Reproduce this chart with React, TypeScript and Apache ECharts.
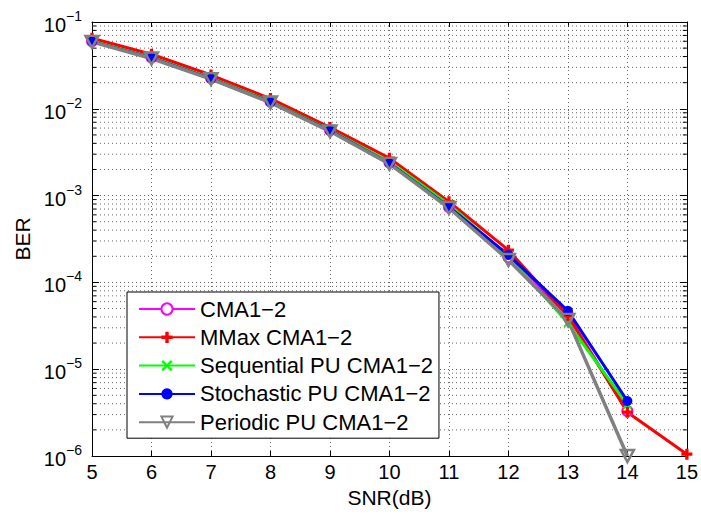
import React, { useEffect, useRef } from 'react';
import * as echarts from 'echarts';

// ---- data ----
const snr = [5, 6, 7, 8, 9, 10, 11, 12, 13, 14, 15];
const seriesNames = [
  'CMA1−2',
  'MMax CMA1−2',
  'Sequential PU CMA1−2',
  'Stochastic PU CMA1−2',
  'Periodic PU CMA1−2',
];
const berCMA = [0.0600, 0.0392, 0.0226, 0.0121, 0.0057, 0.00240, 7.4e-4, 1.95e-4, 4.2e-5, 3.3e-6];
const berMMax = [0.0650, 0.0425, 0.0245, 0.0131, 0.0061, 0.00270, 8.5e-4, 2.35e-4, 4.1e-5, 3.2e-6, 1.05e-6];
const berSeq = [0.0600, 0.0390, 0.0225, 0.0121, 0.0057, 0.00245, 7.9e-4, 2.0e-4, 3.4e-5, 3.9e-6];
const berSto = [0.0595, 0.0386, 0.0222, 0.0119, 0.0056, 0.00236, 7.4e-4, 2.07e-4, 4.7e-5, 4.3e-6];
const berPer = [0.0590, 0.0380, 0.0220, 0.0118, 0.0055, 0.00232, 7.2e-4, 1.81e-4, 3.7e-5, 1.0e-6];
const xTicks = [5, 6, 7, 8, 9, 10, 11, 12, 13, 14, 15];
const yDecades = [-6, -5, -4, -3, -2, -1];
const minorMantissas = [2, 3, 4, 5, 6, 7, 8, 9];

const FONT = 'Liberation Sans, Arial, Helvetica, sans-serif';

const pair = (ys: number[]) => ys.map((y, i) => [snr[i], y]);

export default function App() {
  const ref = useRef<HTMLDivElement>(null);
  useEffect(() => {
    if (!ref.current) return;
    const chart = echarts.init(ref.current, null, { renderer: 'svg' });
    const xMin = xTicks[0];
    const xMax = xTicks[xTicks.length - 1];
    const yMin = Math.pow(10, yDecades[0]);
    const yMax = Math.pow(10, yDecades[yDecades.length - 1]);
    const minorValues: number[] = [];
    yDecades.slice(0, -1).forEach((d) => {
      minorMantissas.forEach((m) => minorValues.push(m * Math.pow(10, d)));
    });

    const gridLine = { show: true, lineStyle: { color: '#666', width: 1, type: [1, 3] as any } };

    const option: any = {
      animation: false,
      backgroundColor: '#fff',
      grid: { left: 92, right: 12, top: 22, bottom: 66, containLabel: false },
      legend: {
        data: seriesNames,
        orient: 'vertical',
        left: 127,
        top: 292,
        padding: [6, 6, 5, 11],
        itemGap: 6.3,
        itemWidth: 56,
        itemHeight: 14,
        backgroundColor: '#fff',
        borderColor: '#000',
        borderWidth: 1,
        borderRadius: 0,
        textStyle: { fontFamily: FONT, fontSize: 22, color: '#000', lineHeight: 22 },
      },
      xAxis: [
        {
          type: 'value',
          min: xMin,
          max: xMax,
          interval: 1,
          position: 'bottom',
          name: 'SNR(dB)',
          nameLocation: 'middle',
          nameGap: 30,
          nameTextStyle: { fontFamily: FONT, fontSize: 21, color: '#000' },
          axisLine: { show: true, onZero: false, lineStyle: { color: '#000', width: 1 } },
          axisTick: { show: true, inside: true, length: 5, lineStyle: { color: '#000' } },
          axisLabel: { show: true, margin: 6, fontFamily: FONT, fontSize: 20, color: '#000' },
          splitLine: gridLine,
        },
        {
          type: 'value',
          min: xMin,
          max: xMax,
          interval: 1,
          position: 'top',
          axisLine: { show: true, onZero: false, lineStyle: { color: '#000', width: 1 } },
          axisTick: { show: true, inside: true, length: 5, lineStyle: { color: '#000' } },
          axisLabel: { show: false },
          splitLine: { show: false },
        },
      ],
      yAxis: [
        {
          type: 'log',
          logBase: 10,
          min: yMin,
          max: yMax,
          splitNumber: 5,
          position: 'left',
          name: 'BER',
          nameLocation: 'middle',
          nameGap: 52,
          nameRotate: 90,
          nameTextStyle: { fontFamily: FONT, fontSize: 21, color: '#000' },
          axisLine: { show: true, onZero: false, lineStyle: { color: '#000', width: 1 } },
          axisTick: { show: true, inside: true, length: 7, lineStyle: { color: '#000' } },
          axisLabel: {
            show: true,
            margin: 10,
            formatter: (v: number) => {
              const e = Math.round(Math.log10(v));
              return '{b|10}{s|' + (e < 0 ? '−' + -e : String(e)) + '}';
            },
            rich: {
              b: { fontFamily: FONT, fontSize: 20, color: '#000', lineHeight: 26, verticalAlign: 'bottom' },
              s: { fontFamily: FONT, fontSize: 14, color: '#000', lineHeight: 14, verticalAlign: 'top' },
            },
          },
          splitLine: gridLine,
        },
        {
          type: 'log',
          logBase: 10,
          min: yMin,
          max: yMax,
          splitNumber: 5,
          position: 'right',
          axisLine: { show: true, onZero: false, lineStyle: { color: '#000', width: 1 } },
          axisTick: { show: true, inside: true, length: 7, lineStyle: { color: '#000' } },
          axisLabel: { show: false },
          splitLine: { show: false },
        },
      ],
      series: [
        {
          type: 'custom',
          name: 'minorGrid',
          silent: true,
          clip: false,
          z: 1,
          xAxisIndex: 0,
          yAxisIndex: 0,
          data: minorValues.map((v) => [xMin, v]),
          renderItem: (_p: any, api: any) => {
            const v = api.value(1);
            const a = api.coord([xMin, v]);
            const b = api.coord([xMax, v]);
            return {
              type: 'group',
              children: [
                { type: 'line', shape: { x1: a[0], y1: a[1], x2: b[0], y2: b[1] }, style: { stroke: '#666', lineWidth: 1, lineDash: [1, 3] } },
                { type: 'line', shape: { x1: a[0], y1: a[1], x2: a[0] + 4, y2: a[1] }, style: { stroke: '#000', lineWidth: 1 } },
                { type: 'line', shape: { x1: b[0] - 4, y1: b[1], x2: b[0], y2: b[1] }, style: { stroke: '#000', lineWidth: 1 } },
              ],
            };
          },
        },
        {
          type: 'line',
          name: seriesNames[0],
          data: pair(berCMA),
          symbol: 'emptyCircle',
          symbolSize: 10,
          lineStyle: { color: '#ff00ff', width: 3 },
          itemStyle: { color: '#ff00ff', borderColor: '#ff00ff', borderWidth: 2.5 },
          z: 3,
        },
        {
          type: 'line',
          name: seriesNames[1],
          data: pair(berMMax),
          symbol: 'path://M3.5,0h3v10h-3z M0,3.5h10v3h-10z',
          symbolSize: 11,
          lineStyle: { color: '#ff0000', width: 3 },
          itemStyle: { color: '#ff0000' },
          z: 3,
        },
        {
          type: 'line',
          name: seriesNames[2],
          data: pair(berSeq),
          symbol: 'path://M0,1.5L1.5,0L5,3.5L8.5,0L10,1.5L6.5,5L10,8.5L8.5,10L5,6.5L1.5,10L0,8.5L3.5,5Z',
          symbolSize: 9,
          lineStyle: { color: '#00ff00', width: 3 },
          itemStyle: { color: '#00ff00' },
          z: 3,
        },
        {
          type: 'line',
          name: seriesNames[3],
          data: pair(berSto),
          symbol: 'circle',
          symbolSize: 10,
          lineStyle: { color: '#0000ff', width: 3 },
          itemStyle: { color: '#0000ff' },
          z: 3,
        },
        {
          type: 'line',
          name: seriesNames[4],
          data: pair(berPer),
          symbol: 'triangle',
          symbolRotate: 180,
          symbolSize: [13, 12],
          lineStyle: { color: '#808080', width: 3.5 },
          itemStyle: { color: 'rgba(255,255,255,0)', borderColor: '#808080', borderWidth: 2.5 },
          z: 3,
        },
      ],
    };
    chart.setOption(option);
    return () => chart.dispose();
  }, []);
  return (
    <div
      ref={ref}
      style={{ position: 'fixed', left: 0, top: 0, width: 701, height: 522, background: '#fff' }}
    />
  );
}
